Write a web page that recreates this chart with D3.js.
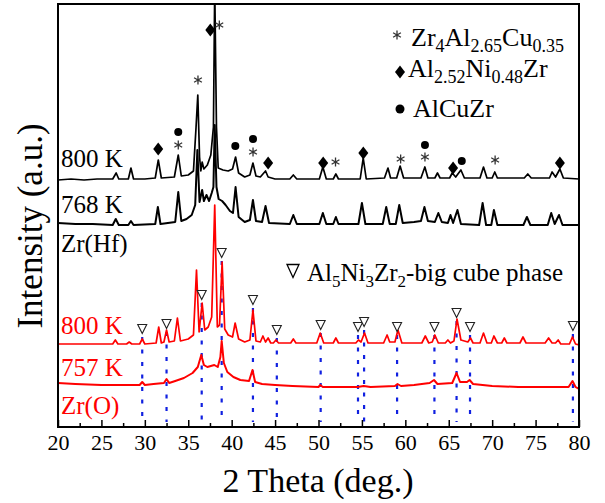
<!DOCTYPE html>
<html>
<head>
<meta charset="utf-8">
<script src="https://cdn.jsdelivr.net/npm/d3@7"></script>
<style>
  body { margin: 0; background: #fff; }
  svg { display: block; }
  text { font-family: "Liberation Serif", "Times New Roman", serif; }
</style>
</head>
<body>
<svg width="605" height="503"></svg>
<script>
// x ticks
const xMajor = [20, 25, 30, 35, 40, 45, 50, 55, 60, 65, 70, 75, 80];
const xMinor = [22.5, 27.5, 32.5, 37.5, 42.5, 47.5, 52.5, 57.5, 62.5, 67.5, 72.5, 77.5];

// traces, [2theta, intensity a.u.]
const black800 = [[20,247],[21.5,248],[23,247],[24.5,248],[26.3,248],[26.7,254],[27,248],[28.1,248],[28.4,259],[28.7,248],[30,248],[31.2,249],[31.55,267],[31.9,249],[33.4,250],[33.85,272],[34.2,251],[35,252],[35.6,256],[35.9,300],[36.1,332],[36.3,270],[36.45,256],[36.6,265],[36.8,258],[37.2,262],[37.6,272],[37.9,300],[38.05,440],[38.25,300],[38.45,259],[39,257],[39.6,256],[40.1,258],[40.45,270],[40.8,254],[41.5,250],[42.1,252],[42.45,264],[42.8,251],[43.3,250],[43.7,254],[43.9,256],[44.2,250],[45,248],[46.7,248],[47.1,252],[47.5,248],[50.1,248],[50.5,260],[50.9,248],[51.7,248],[52,253],[52.3,248],[54.8,248],[55.15,269],[55.5,248],[57.6,249],[58,259],[58.3,249],[59,249],[59.4,261],[59.8,249],[61.8,249],[62.25,260],[62.6,249],[63.4,249],[63.7,254],[64,249],[65.1,249],[65.4,254],[65.8,250],[66.4,257],[66.8,249],[68.6,249],[69,260],[69.4,249],[70,249],[70.3,255],[70.6,249],[73.7,249],[74.1,253],[74.5,249],[76.6,249],[76.9,255],[77.3,250],[77.8,258],[78.2,249],[80,248]];

const black768 = [[20,204],[22,203],[24,203],[26.3,202],[26.65,208],[27,202],[28.1,202],[28.4,206],[28.7,202],[31.2,203],[31.5,220],[31.8,203],[33.5,205],[33.85,235],[34.2,206],[34.8,208],[35.4,212],[35.8,222],[36.05,277],[36.3,225],[36.6,237],[36.8,226],[37.1,232],[37.4,226],[37.7,234],[37.9,240],[38.05,302],[38.25,240],[38.5,228],[38.9,226],[39.3,222],[39.8,216],[40.15,214],[40.45,240],[40.8,210],[41.5,205],[42.1,207],[42.45,227],[42.8,206],[43.5,205],[43.9,221],[44.3,204],[46.7,203],[47.1,212],[47.5,203],[50.1,203],[50.5,214],[50.9,203],[51.7,203],[52,210],[52.3,203],[54.6,203],[55,224],[55.4,203],[57.4,203],[57.8,220],[58.2,203],[58.9,203],[59.3,222],[59.7,204],[61,205],[61.8,206],[62.2,220],[62.6,206],[63.4,205],[63.8,214],[64.2,205],[64.9,204],[65.2,212],[65.5,204],[66,217],[66.4,203],[68.5,202],[68.9,224],[69.3,202],[69.9,202],[70.2,217],[70.6,202],[73.6,202],[74,210],[74.4,202],[76.4,202],[76.8,214],[77.2,203],[77.7,212],[78.1,202],[80,202]];

const red800 = [[20,83],[22,83],[24,83],[26.3,83],[26.6,87],[26.9,83],[27.9,83],[28.2,85],[28.5,83],[29.4,83],[29.7,88],[30,83],[31.3,84],[31.6,100],[31.9,84],[32.2,85],[32.5,97],[32.8,85],[33.4,86],[33.75,109],[34.1,86],[35,88],[35.6,92],[35.95,157],[36.25,95],[36.6,124],[36.9,97],[37.3,100],[37.7,110],[38.05,222],[38.35,100],[38.6,102],[38.9,165],[39.2,98],[39.6,92],[40.1,90],[40.4,104],[40.8,88],[41.5,85],[42.1,87],[42.45,117],[42.8,86],[43.3,85],[43.6,91],[43.9,85],[44.2,89],[44.5,84],[44.8,84],[45.1,87],[45.4,84],[46.8,84],[47.1,88],[47.4,84],[49.8,84],[50.2,94],[50.6,84],[51.7,84],[52,89],[52.3,84],[54.3,84],[54.6,87],[54.9,85],[55.3,94],[55.7,84],[57.5,84],[57.9,92],[58.2,85],[58.8,85],[59.15,97],[59.6,84],[61.9,84],[62.3,91],[62.7,84],[63.1,85],[63.4,92],[63.8,84],[64.6,84],[64.9,87],[65.2,84],[65.6,86],[65.95,108],[66.4,87],[67.2,85],[67.5,89],[67.8,84],[68.6,84],[69,94],[69.4,84],[69.9,84],[70.2,91],[70.6,84],[71.1,84],[71.4,89],[71.7,84],[73.2,84],[73.55,90],[73.9,84],[76.1,84],[76.5,89],[76.9,84],[77.3,84],[77.6,87],[77.9,83],[78.9,83],[79.25,90],[79.6,83],[80,82]];

const red757 = [[20,44],[22,43],[25,42],[27,42],[29.4,42],[29.7,45],[30,42],[31,43],[32.2,44],[32.5,48],[32.8,44],[33.5,46],[34.5,49],[35.5,54],[36.1,60],[36.5,72],[36.8,62],[37.2,60],[37.6,61],[38,62],[38.4,60],[38.7,70],[38.85,86],[39.1,64],[39.5,55],[40.2,50],[41,47],[42,46],[42.4,57],[42.7,45],[43.5,43],[45,42],[47,41],[50,40],[50.2,42],[50.5,40],[54.5,40],[55.2,41],[56,40],[58.8,41],[59.1,43],[59.5,41],[61,42],[62.8,44],[63.3,47],[63.7,43],[65.4,44],[65.9,54],[66.3,45],[67.1,45],[67.4,47],[67.8,43],[70,41],[73,40],[76,40],[78.8,40],[79.25,46],[79.6,40],[80,38]];

// phase markers [2theta, height]
const starMarks = [[33.85,282],[36.12,347],[38.58,402],[42.46,275],[51.96,265],[59.46,268],[62.26,270],[70.34,267]];
const diamondMarks = [[31.54,278],[37.54,397],[44.2,264],[50.54,264],[55.16,274],[65.5,259],[77.8,264]];
const dotMarks = [[33.85,295],[40.42,281],[42.46,288],[62.26,282],[66.5,266]];
const cubeMarks = [[29.7,98],[32.5,103],[36.55,132],[38.85,174],[42.45,127],[45.2,97],[50.25,102],[54.55,100],[55.25,105],[59.05,100],[63.35,100],[65.9,114],[67.45,100],[79.3,101]];

const svg = d3.select("svg");
const x = d3.scaleLinear().domain([20, 80]).range([58, 579]);
const y = d3.scaleLinear().domain([0, 423]).range([427, 4]);

svg.append("clipPath").attr("id", "plot")
    .append("rect").attr("x", 58).attr("y", 4).attr("width", 521).attr("height", 423);

const line = d3.line().x(d => x(d[0])).y(d => y(d[1]));

// blue dotted guide lines
svg.append("g").selectAll("line").data(cubeMarks).enter().append("line")
    .attr("x1", d => x(d[0])).attr("x2", d => x(d[0]))
    .attr("y1", d => y(d[1]) + 8).attr("y2", y(5))
    .attr("stroke", "#1020e0").attr("stroke-width", 2.2)
    .attr("stroke-dasharray", "4,8.5");

const plot = svg.append("g").attr("clip-path", "url(#plot)");
plot.append("path").datum(black800).attr("d", line)
    .attr("fill", "none").attr("stroke", "#000").attr("stroke-width", 1.7).attr("stroke-linejoin", "round");
plot.append("path").datum(black768).attr("d", line)
    .attr("fill", "none").attr("stroke", "#000").attr("stroke-width", 2).attr("stroke-linejoin", "round");
plot.append("path").datum(red800).attr("d", line)
    .attr("fill", "none").attr("stroke", "#ff0000").attr("stroke-width", 1.7).attr("stroke-linejoin", "round");
plot.append("path").datum(red757).attr("d", line)
    .attr("fill", "none").attr("stroke", "#ff0000").attr("stroke-width", 2).attr("stroke-linejoin", "round");

// marker shapes
const starPath = "M0,-4.5V4.5M-3.9,-2.25L3.9,2.25M-3.9,2.25L3.9,-2.25";
const diamondPath = "M0,-6.5L5,0L0,6.5L-5,0Z";
const triPath = (w, h) => `M${-w/2},${-h/2}H${w/2}L0,${h/2}Z`;

svg.append("g").selectAll("path").data(starMarks).enter().append("path")
    .attr("transform", d => `translate(${x(d[0])},${y(d[1])})`)
    .attr("d", starPath).attr("stroke", "#333").attr("stroke-width", 1.3).attr("fill", "none");
svg.append("g").selectAll("path").data(diamondMarks).enter().append("path")
    .attr("transform", d => `translate(${x(d[0])},${y(d[1])})`)
    .attr("d", diamondPath).attr("fill", "#000");
svg.append("g").selectAll("circle").data(dotMarks).enter().append("circle")
    .attr("cx", d => x(d[0])).attr("cy", d => y(d[1])).attr("r", 4).attr("fill", "#000");
svg.append("g").selectAll("path").data(cubeMarks).enter().append("path")
    .attr("transform", d => `translate(${x(d[0])},${y(d[1])})`)
    .attr("d", triPath(9, 9)).attr("fill", "#fff").attr("stroke", "#222").attr("stroke-width", 1.1);

// frame and axis
svg.append("rect").attr("x", 58).attr("y", 4).attr("width", 521).attr("height", 423)
    .attr("fill", "none").attr("stroke", "#000").attr("stroke-width", 2);

const ax = svg.append("g").attr("transform", "translate(0,427)");
ax.call(d3.axisBottom(x).tickValues(xMajor).tickSize(-7).tickPadding(0));
ax.select(".domain").remove();
ax.selectAll(".tick line").attr("stroke", "#000").attr("stroke-width", 1.5);
ax.selectAll(".tick text").attr("y", 23).attr("dy", null)
    .attr("font-size", 22).attr("fill", "#000")
    .style("font-family", '"Liberation Serif", "Times New Roman", serif');
const axm = svg.append("g").attr("transform", "translate(0,427)");
axm.call(d3.axisBottom(x).tickValues(xMinor).tickSize(-4).tickFormat(""));
axm.select(".domain").remove();
axm.selectAll(".tick line").attr("stroke", "#000").attr("stroke-width", 1.5);

svg.append("text").attr("x", 318).attr("y", 492).attr("text-anchor", "middle")
    .attr("font-size", 34).text("2 Theta (deg.)");
svg.append("text").attr("transform", "translate(42,226) rotate(-90)").attr("text-anchor", "middle")
    .attr("font-size", 35).text("Intensity (a.u.)");

// trace labels
const lab = [["800 K", 167, "#000"], ["768 K", 213, "#000"], ["Zr(Hf)", 252, "#000"],
             ["800 K", 334, "#ff0000"], ["757 K", 376, "#ff0000"], ["Zr(O)", 414, "#ff0000"]];
svg.append("g").selectAll("text").data(lab).enter().append("text")
    .attr("x", 61).attr("y", d => d[1]).attr("fill", d => d[2])
    .attr("font-size", 25).text(d => d[0]);

// legend with subscripts
function formula(g, xx, yy, parts, fs, ss) {
    const t = g.append("text").attr("x", xx).attr("y", yy).attr("font-size", fs);
    let sub = false;
    parts.forEach(p => {
        const isSub = /^[0-9.]+$/.test(p);
        const ts = t.append("tspan").text(p);
        if (isSub) ts.attr("font-size", ss);
        if (isSub && !sub) ts.attr("dy", 6);
        else if (!isSub && sub) ts.attr("dy", -6);
        sub = isSub;
    });
    return t;
}
const leg = svg.append("g");
leg.append("path").attr("transform", "translate(397,35)").attr("d", starPath)
    .attr("stroke", "#333").attr("stroke-width", 1.3);
formula(leg, 411, 46, ["Zr", "4", "Al", "2.65", "Cu", "0.35"], 26, 18);
leg.append("path").attr("transform", "translate(400,72)").attr("d", diamondPath).attr("fill", "#000");
formula(leg, 408, 77, ["Al", "2.52", "Ni", "0.48", "Zr"], 26, 18);
leg.append("circle").attr("cx", 400).attr("cy", 109).attr("r", 4.5).attr("fill", "#000");
formula(leg, 413, 117, ["AlCuZr"], 26, 18);

leg.append("path").attr("transform", "translate(293,271)").attr("d", triPath(12, 13))
    .attr("fill", "none").attr("stroke", "#000").attr("stroke-width", 1.3);
formula(leg, 307, 281, ["Al", "5", "Ni", "3", "Zr", "2", "-big cube phase"], 25, 17);
</script>
</body>
</html>
